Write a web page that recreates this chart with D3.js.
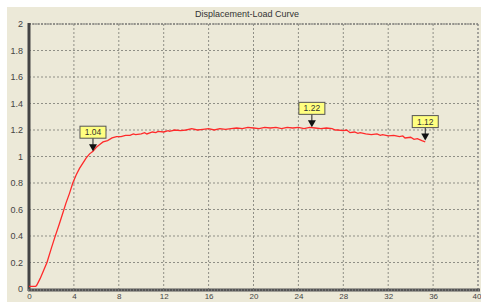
<!DOCTYPE html>
<html><head><meta charset="utf-8">
<script src="https://cdn.jsdelivr.net/npm/d3@7/dist/d3.min.js"></script>
<style>html,body{margin:0;padding:0;background:#fff;}svg{display:block;}</style>
</head><body>
<svg id="c" width="481" height="302"></svg>
<script>
const title = "Displacement-Load Curve";
const xTicks = [0,4,8,12,16,20,24,28,32,36,40];
const yTicks = [0,0.2,0.4,0.6,0.8,1,1.2,1.4,1.6,1.8,2];
const yTickLabels = ["0","0.2","0.4","0.6","0.8","1","1.2","1.4","1.6","1.8","2"];
const displacement = [0,0.3,0.6,0.7,1.0,1.3,1.6,2.0,2.3,2.7,3.0,3.3,3.6,3.9,4.2,4.5,4.8,5.1,5.4,5.7,6.0,6.3,6.6,7.0,7.4,7.8,8.2,8.6,9.0,9.3,9.5,10,10.3,10.5,11,11.3,11.5,12,12.4,12.5,13,13.5,14,14.5,15,15.5,16,16.5,17,17.5,18,18.5,19,19.5,20,20.5,21,21.5,22,22.5,23,23.5,24,24.5,25,25.5,26,26.5,27,27.3,27.5,28,28.3,28.6,29,29.3,29.5,30,30.5,31,31.3,31.5,32,32.5,33,33.3,33.5,34,34.3,34.6,35,35.3];
const load = [0.02,0.02,0.02,0.03,0.08,0.14,0.2,0.31,0.39,0.49,0.57,0.65,0.72,0.8,0.86,0.91,0.95,0.99,1.02,1.04,1.07,1.09,1.11,1.12,1.14,1.15,1.15,1.16,1.16,1.17,1.165,1.17,1.18,1.17,1.185,1.18,1.19,1.185,1.195,1.19,1.2,1.195,1.2,1.21,1.2,1.205,1.21,1.2,1.21,1.205,1.21,1.215,1.21,1.22,1.215,1.21,1.22,1.215,1.22,1.21,1.22,1.215,1.22,1.21,1.22,1.215,1.21,1.215,1.21,1.2,1.2,1.195,1.2,1.18,1.185,1.175,1.18,1.17,1.165,1.17,1.16,1.165,1.155,1.16,1.15,1.155,1.14,1.145,1.13,1.135,1.12,1.11];
const markerX = [5.7,25.2,35.3];
const markerY = [1.04,1.22,1.12];
const markerLabels = ["1.04","1.22","1.12"];

const svg = d3.select("#c");
const L=29, R=478, T=24, B=289;
const x = d3.scaleLinear().domain([0,40]).range([L,R]);
const y = d3.scaleLinear().domain([0,2]).range([B,T]);
const FF = "Liberation Sans, Arial, sans-serif";

svg.append("rect").attr("x",7).attr("y",7).attr("width",474).attr("height",295).attr("fill","#ECE9D8");

svg.append("text").attr("x",247).attr("y",17).attr("text-anchor","middle")
  .attr("font-family",FF).attr("font-size",9).attr("fill","#333").text(title);

// grid
const g = svg.append("g");
g.selectAll(".vg").data(xTicks.slice(1)).enter().append("line")
  .attr("x1",d=>x(d)).attr("x2",d=>x(d)).attr("y1",T).attr("y2",B)
  .attr("stroke","#8f8f86").attr("stroke-width",1).attr("stroke-dasharray","2,2");
g.selectAll(".hg").data(yTicks.slice(1)).enter().append("line")
  .attr("x1",L).attr("x2",R).attr("y1",d=>y(d)).attr("y2",d=>y(d))
  .attr("stroke","#8f8f86").attr("stroke-width",1).attr("stroke-dasharray","2,2");
g.append("line").attr("x1",L).attr("x2",R).attr("y1",T).attr("y2",T).attr("stroke","#666").attr("stroke-dasharray","2,1");
g.append("line").attr("x1",R).attr("x2",R).attr("y1",T).attr("y2",B).attr("stroke","#888").attr("stroke-dasharray","2,2");

// axes
const yAxis = d3.axisLeft(y).tickValues(yTicks).tickFormat((d,i)=>yTickLabels[i]).tickSize(0).tickPadding(6);
const ya = svg.append("g").attr("transform",`translate(${L},0)`).call(yAxis);
ya.select(".domain").remove();
ya.selectAll("text").attr("font-family",FF).attr("font-size",9).attr("fill","#444");

const xAxis = d3.axisBottom(x).tickValues(xTicks).tickSize(0).tickPadding(4);
const xa = svg.append("g").attr("transform",`translate(0,${B})`).call(xAxis);
xa.select(".domain").remove();
xa.selectAll("text").attr("font-family",FF).attr("font-size",8).attr("fill","#444")
  .attr("text-anchor",(d,i)=> i===xTicks.length-1 ? "end" : "middle")
  .attr("dx",(d,i)=> i===xTicks.length-1 ? "3" : "0");

svg.append("line").attr("x1",L).attr("x2",L).attr("y1",T-1).attr("y2",B+2).attr("stroke","#444").attr("stroke-width",3);
svg.append("line").attr("x1",L-1).attr("x2",R+2).attr("y1",B+1).attr("y2",B+1).attr("stroke","#555").attr("stroke-width",3);
svg.append("line").attr("x1",L-1).attr("x2",R+2).attr("y1",B+1).attr("y2",B+1).attr("stroke","#999").attr("stroke-width",1).attr("stroke-dasharray","1,2");

// curve
const pts = displacement.map((d,i)=>[d,load[i]]);
svg.append("path").datum(pts)
  .attr("d", d3.line().x(d=>x(d[0])).y(d=>y(d[1])))
  .attr("fill","none").attr("stroke","#FF2A2A").attr("stroke-width",1.3);

// markers
const mk = svg.selectAll(".mk").data(markerX).enter().append("g");
mk.append("line").attr("x1",d=>x(d)).attr("x2",d=>x(d))
  .attr("y1",(d,i)=>y(markerY[i])-20).attr("y2",(d,i)=>y(markerY[i])-4)
  .attr("stroke","#222").attr("stroke-width",1);
mk.append("path").attr("d",(d,i)=>{const px=x(d),py=y(markerY[i]);return `M${px-4},${py-7}L${px+4},${py-7}L${px},${py}Z`;})
  .attr("fill","#111");
mk.append("rect").attr("x",d=>x(d)-13).attr("y",(d,i)=>y(markerY[i])-25).attr("width",26).attr("height",12)
  .attr("fill","#FFFF80").attr("stroke","#555").attr("stroke-width",1);
mk.append("text").attr("x",d=>x(d)).attr("y",(d,i)=>y(markerY[i])-16).attr("text-anchor","middle")
  .attr("font-family",FF).attr("font-size",8.5).attr("fill","#333")
  .text((d,i)=>markerLabels[i]);
</script>
</body></html>
